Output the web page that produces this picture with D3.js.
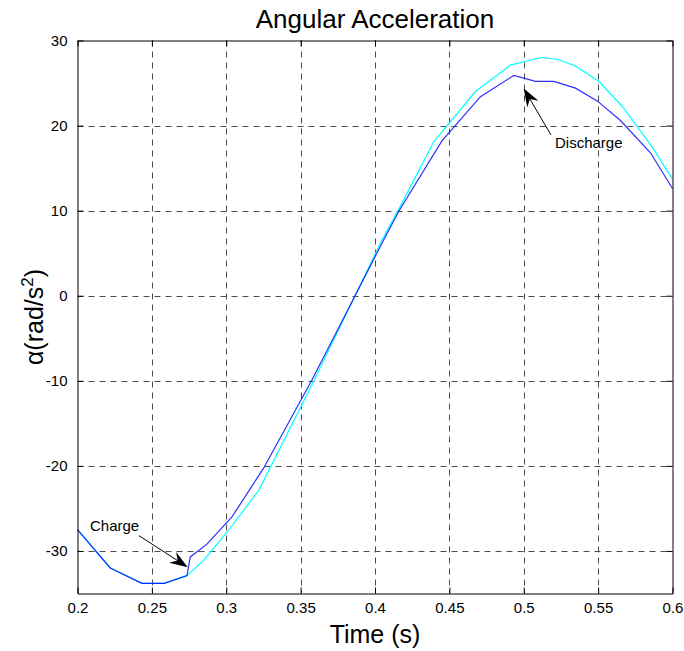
<!DOCTYPE html>
<html>
<head>
<meta charset="utf-8">
<script src="https://cdn.jsdelivr.net/npm/d3@7"></script>
<style>
  body { margin: 0; background: #fff; }
  svg { display: block; }
  text { font-family: "Liberation Sans", Arial, Helvetica, sans-serif; fill: #000; }
</style>
</head>
<body>
<svg id="chart" width="684" height="651"></svg>
<script>
// Angular acceleration without storage (cyan) and with charge/discharge (blue)
const timeBase  = [0.2, 0.222, 0.2433, 0.2583, 0.2736, 0.2848, 0.3005, 0.3218, 0.36, 0.4047, 0.417, 0.4395, 0.4675, 0.491, 0.5114, 0.5225, 0.5347, 0.5504, 0.566, 0.5863, 0.6];
const alphaBase = [-27.5, -32.0, -33.8, -33.8, -32.9, -31.1, -27.8, -22.9, -9.6, 6.55, 10.5, 18.1, 24.0, 27.1, 28.0, 27.8, 27.0, 25.2, 22.3, 17.5, 13.7];

const timeStorage  = [0.2, 0.222, 0.2433, 0.2583, 0.2736, 0.2758, 0.287, 0.3038, 0.325, 0.3576, 0.4058, 0.4159, 0.445, 0.4709, 0.4934, 0.5079, 0.5202, 0.5348, 0.5494, 0.565, 0.5852, 0.6];
const alphaStorage = [-27.5, -32.0, -33.8, -33.8, -32.9, -30.7, -29.2, -26.0, -20.3, -9.9, 6.55, 9.9, 18.2, 23.4, 25.9, 25.2, 25.2, 24.4, 22.9, 20.6, 16.8, 12.6];

const xTickValues = [0.2, 0.25, 0.3, 0.35, 0.4, 0.45, 0.5, 0.55, 0.6];
const xTickLabels = ["0.2", "0.25", "0.3", "0.35", "0.4", "0.45", "0.5", "0.55", "0.6"];
const yTickValues = [-30, -20, -10, 0, 10, 20, 30];
const yTickLabels = ["-30", "-20", "-10", "0", "10", "20", "30"];

// Annotation arrows: [tailTime, tailAlpha, tipTime, tipAlpha], label anchor [time, alpha]
const chargeArrow = [0.2413, -28.2, 0.2741, -31.9];
const chargeLabel = [0.2084, -27.6];
const dischargeArrow = [0.5183, 18.9, 0.5, 24.35];
const dischargeLabel = [0.521, 17.35];

const svg = d3.select("#chart");
const plotLeft = 77.5, plotRight = 672.5, plotTop = 40.5, plotBottom = 593.5;

const x = d3.scaleLinear().domain([0.2, 0.6]).range([plotLeft, plotRight]);
const y = d3.scaleLinear().domain([-35, 30]).range([plotBottom, plotTop]);

// Dashed grid at interior ticks
const grid = svg.append("g").attr("stroke", "#4a4a4a").attr("stroke-width", 1).attr("stroke-dasharray", "6,5");
grid.selectAll("line.gx").data(xTickValues.slice(1, -1)).join("line")
  .attr("x1", d => Math.round(x(d)) + 0.5).attr("x2", d => Math.round(x(d)) + 0.5)
  .attr("y1", plotTop).attr("y2", plotBottom);
grid.selectAll("line.gy").data(yTickValues.slice(0, -1)).join("line")
  .attr("y1", d => Math.round(y(d)) + 0.5).attr("y2", d => Math.round(y(d)) + 0.5)
  .attr("x1", plotLeft).attr("x2", plotRight);

// Curves
const line = d3.line().x(d => x(d[0])).y(d => y(d[1]));
svg.append("path").datum(d3.zip(timeBase, alphaBase))
  .attr("d", line).attr("fill", "none").attr("stroke", "#00ffff").attr("stroke-width", 1.2);
svg.append("path").datum(d3.zip(timeStorage, alphaStorage))
  .attr("d", line).attr("fill", "none").attr("stroke", "#0000ff").attr("stroke-opacity", 0.82).attr("stroke-width", 1.2);

// Axes with inward ticks on all four sides
const tickLen = 6;
const fmtX = d => xTickLabels[xTickValues.indexOf(d)];
const fmtY = d => yTickLabels[yTickValues.indexOf(d)];

const axB = svg.append("g").attr("transform", `translate(0,${plotBottom})`)
  .call(d3.axisBottom(x).tickValues(xTickValues).tickFormat(fmtX).tickSizeInner(-tickLen).tickSizeOuter(0).tickPadding(9));
const axT = svg.append("g").attr("transform", `translate(0,${plotTop})`)
  .call(d3.axisTop(x).tickValues(xTickValues).tickFormat("").tickSizeInner(-tickLen).tickSizeOuter(0));
const axL = svg.append("g").attr("transform", `translate(${plotLeft},0)`)
  .call(d3.axisLeft(y).tickValues(yTickValues).tickFormat(fmtY).tickSizeInner(-tickLen).tickSizeOuter(0).tickPadding(10));
const axR = svg.append("g").attr("transform", `translate(${plotRight},0)`)
  .call(d3.axisRight(y).tickValues(yTickValues).tickFormat("").tickSizeInner(-tickLen).tickSizeOuter(0));

[axB, axT, axL, axR].forEach(a => {
  a.select(".domain").attr("stroke", "#000").attr("stroke-width", 1);
  a.selectAll(".tick line").attr("stroke", "#000");
  a.selectAll("text").attr("font-size", 15).attr("font-family", '"Liberation Sans", Arial, sans-serif').attr("fill", "#000");
});

// Titles
svg.append("text").attr("x", (plotLeft + plotRight) / 2).attr("y", 28)
  .attr("text-anchor", "middle").attr("font-size", 26).text("Angular Acceleration");
svg.append("text").attr("x", (plotLeft + plotRight) / 2).attr("y", 643)
  .attr("text-anchor", "middle").attr("font-size", 25).text("Time (s)");
const yl = svg.append("text").attr("transform", `translate(43,${(plotTop + plotBottom) / 2}) rotate(-90)`)
  .attr("text-anchor", "middle").attr("font-size", 25);
yl.append("tspan").text("\u03b1(rad/s");
yl.append("tspan").attr("font-size", 17).attr("dy", -10).text("2");
yl.append("tspan").attr("dy", 10).text(")");

// Annotations
function arrow(a) {
  const x0 = x(a[0]), y0 = y(a[1]), x1 = x(a[2]), y1 = y(a[3]);
  const dx = x1 - x0, dy = y1 - y0, len = Math.hypot(dx, dy);
  const ux = dx / len, uy = dy / len, nx = -uy, ny = ux;
  const L = 18, W = 6.5, N = 12;
  svg.append("line").attr("x1", x0).attr("y1", y0).attr("x2", x1 - ux * N).attr("y2", y1 - uy * N)
    .attr("stroke", "#000").attr("stroke-width", 1);
  const pts = [
    [x1, y1],
    [x1 - ux * L + nx * W, y1 - uy * L + ny * W],
    [x1 - ux * N, y1 - uy * N],
    [x1 - ux * L - nx * W, y1 - uy * L - ny * W]
  ];
  svg.append("path").attr("d", "M" + pts.map(p => p.join(",")).join("L") + "Z").attr("fill", "#000");
}
arrow(chargeArrow);
arrow(dischargeArrow);
svg.append("text").attr("x", x(chargeLabel[0])).attr("y", y(chargeLabel[1])).attr("font-size", 15).text("Charge");
svg.append("text").attr("x", x(dischargeLabel[0])).attr("y", y(dischargeLabel[1])).attr("font-size", 15).text("Discharge");
</script>
</body>
</html>
